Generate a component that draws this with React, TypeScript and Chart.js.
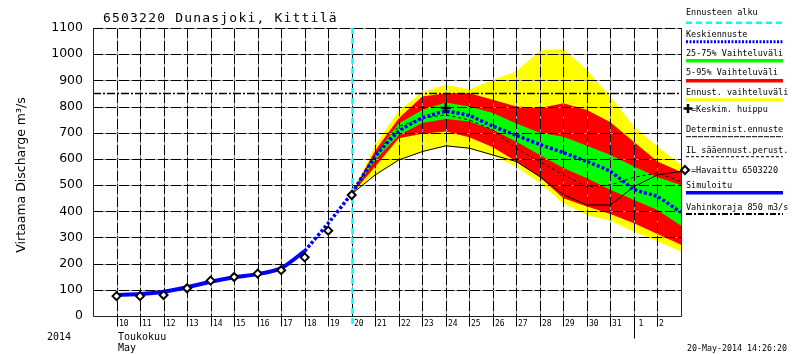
import React, { useEffect, useRef } from 'react';
import { Chart, registerables } from 'chart.js';

Chart.register(...registerables);

// ---------- text ----------
const TITLE = '6503220 Dunasjoki, Kittilä';
const Y_TITLE = 'Virtaama Discharge m³/s';
const YEAR_LABEL = '2014';
const MONTH_LABELS = ['Toukokuu', 'May'];
const TIMESTAMP = '20-May-2014 14:26:20';

// ---------- axes ----------
const X_MIN = 9; // May 9
const X_MAX = 34; // June 3
const Y_MIN = 0;
const Y_MAX = 1100;
const Y_STEP = 100;
const DAY_TICKS = [10, 11, 12, 13, 14, 15, 16, 17, 18, 19, 20, 21, 22, 23, 24, 25, 26, 27, 28, 29, 30, 31, 32, 33];
const DAY_LABELS = ['10', '11', '12', '13', '14', '15', '16', '17', '18', '19', '20', '21', '22', '23', '24', '25', '26', '27', '28', '29', '30', '31', '1', '2'];
const MONTH_BREAK = 32; // June 1
const FORECAST_START = 20;
const DAMAGE_LEVEL = 850;

// ---------- series ----------
const obsDays = [10, 11, 12, 13, 14, 15, 16, 17, 18, 19, 20];
const observed = [76, 76, 80, 106, 135, 149, 162, 175, 224, 326, 462];

const simDays = [10, 11, 12, 13, 14, 15, 16, 17, 18];
const simulated = [80, 84, 93, 110, 131, 148, 160, 182, 248];

const meanDays = [18, 19, 20, 21, 22, 23, 24, 25, 26, 27, 28, 29, 30, 31, 32, 33, 34];
const meanForecast = [248, 354, 469, 609, 705, 756, 781, 765, 725, 690, 655, 624, 590, 552, 484, 456, 395];

const bandDays = [20, 21, 22, 23, 24, 25, 26, 27, 28, 29, 30, 31, 32, 33, 34];
const yellowUpper = [466, 654, 785, 855, 883, 866, 902, 934, 1014, 1020, 940, 838, 725, 647, 578];
const redUpper = [466, 632, 755, 838, 851, 851, 826, 800, 794, 813, 787, 740, 665, 590, 550];
const greenUpper = [466, 615, 735, 787, 815, 800, 775, 735, 700, 685, 650, 615, 571, 530, 500];
const greenLower = [466, 596, 690, 737, 752, 743, 711, 666, 615, 565, 526, 482, 443, 405, 345];
const redLower = [466, 571, 679, 696, 705, 683, 645, 590, 530, 450, 418, 390, 354, 313, 272];
const yellowLower = [466, 536, 594, 626, 648, 639, 612, 571, 507, 431, 386, 364, 322, 285, 246];
const deterministic = [466, 539, 596, 628, 650, 641, 615, 590, 532, 463, 424, 424, 494, 539, 552];
const ilForecast = [466, 615, 724, 756, 768, 749, 711, 640, 590, 539, 494, 501, 530, 546, 513];

const peakDays = [24];
const peakValues = [794];

// ---------- legend ----------
const LEGEND_LABELS = [
  'Ennusteen alku',
  'Keskiennuste',
  '25-75% Vaihteluväli',
  '5-95% Vaihteluväli',
  'Ennust. vaihteluväli',
  '=Keskim. huippu',
  'Determinist.ennuste',
  'IL sääennust.perust.',
  '=Havaittu 6503220',
  'Simuloitu',
  'Vahinkoraja 850 m3/s',
];

const YELLOW = '#ffff00';
const RED = '#ff0000';
const GREEN = '#00ff00';
const BLUE = '#0000ff';
const CYAN = '#00ffff';

const pts = (xs: number[], ys: number[]) => xs.map((x, i) => ({ x, y: ys[i] }));

const MONO = '"DejaVu Sans Mono", monospace';
const SANS = '"DejaVu Sans", sans-serif';

function seg(ctx: CanvasRenderingContext2D, x1: number, y1: number, x2: number, y2: number) {
  ctx.beginPath();
  ctx.moveTo(x1, y1);
  ctx.lineTo(x2, y2);
  ctx.stroke();
}

function drawGrid(chart: any) {
  const { ctx, chartArea: a, scales } = chart;
  const xs = scales.x;
  const ys = scales.y;
  ctx.save();
  ctx.lineWidth = 1;
  const vert = (px: number) => {
    ctx.strokeStyle = '#9a9a9a';
    ctx.setLineDash([]);
    seg(ctx, px, a.top, px, a.bottom);
    ctx.strokeStyle = '#000';
    ctx.setLineDash([10, 3]);
    seg(ctx, px, a.top, px, a.bottom);
  };
  const horiz = (py: number) => {
    ctx.strokeStyle = '#9a9a9a';
    ctx.setLineDash([]);
    seg(ctx, a.left, py, a.right, py);
    ctx.strokeStyle = '#000';
    ctx.setLineDash([10, 3]);
    seg(ctx, a.left, py, a.right, py);
  };
  DAY_TICKS.forEach((d) => vert(Math.round(xs.getPixelForValue(d)) + 0.5));
  ys.ticks.forEach((t: any) => {
    if (t.value > Y_MIN) horiz(Math.round(ys.getPixelForValue(t.value)) + 0.5);
  });
  // damage level
  const py = Math.round(ys.getPixelForValue(DAMAGE_LEVEL)) + 0.5;
  ctx.strokeStyle = '#000';
  ctx.lineWidth = 1.5;
  ctx.setLineDash([8, 2, 2, 2]);
  seg(ctx, a.left, py, a.right, py);
  // forecast start
  const cx = Math.round(xs.getPixelForValue(FORECAST_START)) + 0.5;
  ctx.strokeStyle = CYAN;
  ctx.lineWidth = 2.5;
  ctx.setLineDash([6, 4]);
  seg(ctx, cx, a.top, cx, a.bottom + 10);
  ctx.restore();
}

function drawDecor(chart: any) {
  const { ctx, chartArea: a, scales } = chart;
  const xs = scales.x;
  ctx.save();
  // frame
  ctx.strokeStyle = '#222';
  ctx.lineWidth = 1;
  ctx.setLineDash([]);
  const L = Math.round(a.left) + 0.5;
  const R = Math.round(a.right) + 0.5;
  const B = Math.round(a.bottom) + 0.5;
  seg(ctx, L, a.top, L, B);
  seg(ctx, L, B, R, B);
  seg(ctx, R, a.top, R, B);
  // tick marks and labels
  ctx.fillStyle = '#000';
  ctx.font = `8px ${MONO}`;
  ctx.textAlign = 'left';
  ctx.textBaseline = 'alphabetic';
  DAY_TICKS.forEach((d, i) => {
    const px = Math.round(xs.getPixelForValue(d)) + 0.5;
    ctx.strokeStyle = '#000';
    const len = d === MONTH_BREAK ? 22 : 10;
    if (d !== FORECAST_START) seg(ctx, px, B, px, B + len);
    ctx.fillText(DAY_LABELS[i], px + (d === MONTH_BREAK ? 4 : 1.5), B + 9);
  });
  // year / month
  ctx.font = `10px ${MONO}`;
  ctx.fillText(YEAR_LABEL, 47, 340);
  const mx = Math.round(xs.getPixelForValue(DAY_TICKS[0])) + 1;
  ctx.fillText(MONTH_LABELS[0], mx, 340);
  ctx.fillText(MONTH_LABELS[1], mx, 350.5);
  ctx.font = `8.3px ${MONO}`;
  ctx.fillText(TIMESTAMP, 687, 351);
  // title
  ctx.font = `13px ${MONO}`;
  (ctx as any).letterSpacing = '1.2px';
  ctx.fillText(TITLE, 103, 21.5);
  (ctx as any).letterSpacing = '0px';
  // y title
  ctx.save();
  ctx.translate(22, 175);
  ctx.rotate(-Math.PI / 2);
  ctx.font = `12.5px ${SANS}`;
  ctx.textAlign = 'center';
  ctx.textBaseline = 'middle';
  ctx.fillText(Y_TITLE, 0, 0);
  ctx.restore();

  // legend
  const lx = 686;
  const lw = 97;
  const baselines = [15, 36.7, 55.7, 75, 95, 111.5, 131.7, 153.3, 173.3, 188.3, 210];
  const samples: any[] = [
    { y: 22.7, color: CYAN, width: 2.5, dash: [6, 4] },
    { y: 41.7, color: BLUE, width: 3, dash: [2, 1.5] },
    { y: 60.7, color: GREEN, width: 3.5, dash: [] },
    { y: 80.7, color: RED, width: 3.5, dash: [] },
    { y: 100, color: YELLOW, width: 3.5, dash: [] },
    null,
    { y: 136.7, color: '#000', width: 1, dash: [5, 1] },
    { y: 156.7, color: '#000', width: 1, dash: [3, 2] },
    null,
    { y: 192.7, color: BLUE, width: 3.5, dash: [] },
    { y: 214, color: '#000', width: 2, dash: [6, 2, 2, 2] },
  ];
  ctx.font = `8.5px ${MONO}`;
  ctx.textAlign = 'left';
  ctx.textBaseline = 'alphabetic';
  LEGEND_LABELS.forEach((label, i) => {
    const tx = label.startsWith('=') ? lx + 5 : lx;
    ctx.fillStyle = '#000';
    ctx.fillText(label, tx, baselines[i]);
    const s = samples[i];
    if (s) {
      ctx.strokeStyle = s.color;
      ctx.lineWidth = s.width;
      ctx.setLineDash(s.dash);
      seg(ctx, lx, s.y, lx + lw, s.y);
    }
  });
  ctx.setLineDash([]);
  // legend markers
  ctx.strokeStyle = '#000';
  ctx.lineWidth = 2.5;
  seg(ctx, 688, 104, 688, 113);
  seg(ctx, 683.5, 108.5, 692.5, 108.5);
  ctx.lineWidth = 2;
  ctx.fillStyle = '#fff';
  ctx.beginPath();
  ctx.moveTo(685, 166);
  ctx.lineTo(689, 170);
  ctx.lineTo(685, 174);
  ctx.lineTo(681, 170);
  ctx.closePath();
  ctx.fill();
  ctx.stroke();
  ctx.restore();
}

const decorPlugin = {
  id: 'decor',
  beforeDatasetDraw(chart: any, args: any) {
    if (args.index === 5) drawGrid(chart);
  },
  afterDraw(chart: any) {
    drawDecor(chart);
  },
};

const band = (data: number[], color: string, fill: any, order: number) => ({
  data: pts(bandDays, data),
  borderColor: 'rgba(0,0,0,0)',
  borderWidth: 1,
  backgroundColor: color,
  fill,
  pointRadius: 0,
  tension: 0,
  order,
});

export default function App() {
  const ref = useRef<HTMLCanvasElement>(null);
  useEffect(() => {
    const chart = new Chart(ref.current as HTMLCanvasElement, {
      type: 'line',
      data: {
        datasets: [
          {
            label: 'Keskim. huippu',
            data: pts(peakDays, peakValues),
            showLine: false,
            pointStyle: 'cross',
            pointRadius: 5,
            pointBorderWidth: 2.5,
            borderColor: '#000',
            backgroundColor: '#000',
            order: 1,
          } as any,
          {
            label: 'Havaittu',
            data: pts(obsDays, observed),
            showLine: false,
            pointStyle: 'rectRot',
            pointRadius: 4,
            pointBorderWidth: 2,
            borderColor: '#000',
            backgroundColor: '#fff',
            order: 2,
          },
          {
            label: 'Simuloitu',
            data: pts(simDays, simulated),
            borderColor: BLUE,
            borderWidth: 4,
            pointRadius: 0,
            fill: false,
            tension: 0.2,
            order: 3,
          },
          {
            label: 'Keskiennuste',
            data: pts(meanDays, meanForecast),
            borderColor: BLUE,
            borderWidth: 3.5,
            borderDash: [3, 2],
            pointRadius: 0,
            fill: false,
            tension: 0.2,
            order: 4,
          },
          {
            label: 'Determinist.ennuste',
            data: pts(bandDays, deterministic),
            borderColor: '#000',
            borderWidth: 1,
            pointRadius: 0,
            fill: false,
            order: 5,
          },
          {
            label: 'IL sääennust.perust.',
            data: pts(bandDays, ilForecast),
            borderColor: '#000',
            borderWidth: 1,
            borderDash: [3, 3],
            pointRadius: 0,
            fill: false,
            order: 6,
          },
          band(greenUpper, GREEN, '+1', 10),
          band(greenLower, 'rgba(0,0,0,0)', false, 11),
          band(redUpper, RED, '+1', 12),
          band(redLower, 'rgba(0,0,0,0)', false, 13),
          band(yellowUpper, YELLOW, '+1', 14),
          band(yellowLower, 'rgba(0,0,0,0)', false, 15),
        ] as any,
      },
      options: {
        animation: false,
        responsive: false,
        events: [],
        layout: { padding: { left: 0, right: 128, top: 28, bottom: 38 } },
        plugins: {
          legend: { display: false },
          tooltip: { enabled: false },
          title: { display: false },
        },
        scales: {
          x: {
            type: 'linear',
            min: X_MIN,
            max: X_MAX,
            display: false,
          },
          y: {
            type: 'linear',
            min: Y_MIN,
            max: Y_MAX,
            grid: { display: false, drawTicks: false },
            border: { display: false },
            ticks: {
              stepSize: Y_STEP,
              padding: 10,
              color: '#000',
              font: { family: 'DejaVu Sans', size: 12.5 },
              callback: (v: any) => String(v),
            },
            afterFit: (s: any) => {
              s.width = 93;
            },
          },
        },
      } as any,
      plugins: [decorPlugin],
    });
    return () => chart.destroy();
  }, []);
  return (
    <div style={{ position: 'absolute', left: 0, top: 0, width: 809, height: 354, background: '#fff' }}>
      <canvas ref={ref} width={809} height={354} style={{ display: 'block', width: 809, height: 354 }} />
    </div>
  );
}
